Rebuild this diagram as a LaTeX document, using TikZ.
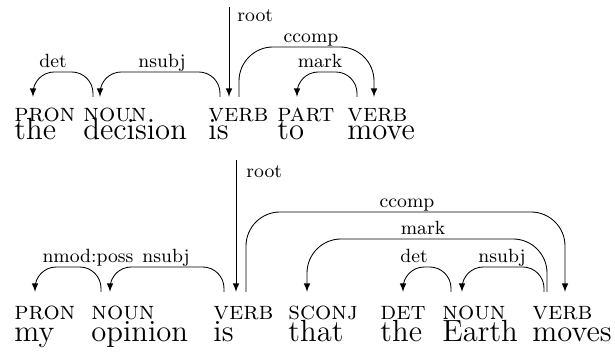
\documentclass[tikz,border=0pt]{standalone}
\usetikzlibrary{calc}
\begin{document}
\begin{tikzpicture}[x=0.47pt,y=0.47pt]
% Styles
\tikzstyle{cat}=[font=\large\scshape,inner sep=0pt,anchor=base west]
\tikzstyle{mot}=[font=\Large,inner sep=0pt,anchor=base west]
\tikzstyle{fleche}=[->,>=latex,thin]
\tikzstyle{arc}=[fleche,rounded corners=10pt]
\tikzstyle{grandarc}=[fleche,rounded corners=16pt]
\tikzstyle{etiq}=[font=\small,inner sep=0pt,anchor=base]
% Dimensions
\def\EcartA{18}
\def\EcartB{22}
\def\LevA{25}
\def\LevB{28}
\useasboundingbox (0,0) rectangle (615,352);
% Phrase 1 : categories
\node[cat] (ta1) at (14,230) {pron};
\node[cat] (ta2) at (83,230) {noun};
\node[cat] (ta3) at (208,230) {verb};
\node[cat] (ta4) at (277,230) {part};
\node[cat] (ta5) at (347,230) {verb};
% Phrase 1 : mots
\node[mot] (ma1) at ($(ta1.base west)+(0,-\EcartA)$) {the};
\node[mot] (ma2) at ($(ta2.base west)+(0,-\EcartA)$) {decision};
\node[mot] (ma3) at ($(ta3.base west)+(0,-\EcartA)$) {is};
\node[mot] (ma4) at ($(ta4.base west)+(0,-\EcartA)$) {to};
\node[mot] (ma5) at ($(ta5.base west)+(0,-\EcartA)$) {move};
% Phrase 1 : dependances
\coordinate (ra) at ($(ta3.base west)+(21,115)$);
\draw[fleche] (ra) node[etiq,anchor=base west,shift={(8,-15)}] (lra) {root} -- ($(ta3.base west)+(21,\LevA)$);
\draw[arc] ($(ta2.base west)+(10,\LevA)$) -- ++(0,25) node[etiq,shift={(-40,4)}] (la1) {det} -| ($(ta1.base west)+(19,\LevA)$);
\draw[arc] ($(ta3.base west)+(12,\LevA)$) -- ++(0,25) node[etiq,shift={(-58,4)}] (la2) {nsubj} -| ($(ta2.base west)+(17,\LevA)$);
\draw[grandarc] ($(ta3.base west)+(31,\LevA)$) -- ++(0,50) node[etiq,shift={(72,4)}] (la3) {ccomp} -| ($(ta5.base west)+(27,\LevA)$);
\draw[arc] ($(ta5.base west)+(10,\LevA)$) -- ++(0,25) node[etiq,shift={(-37,4)}] (la4) {mark} -| ($(ta4.base west)+(20,\LevA)$);
% Phrase 2 : categories
\node[cat] (tb1) at (14,32) {pron};
\node[cat] (tb2) at (91,32) {noun};
\node[cat] (tb3) at (213,32) {verb};
\node[cat] (tb4) at (288,32) {sconj};
\node[cat] (tb5) at (380,32) {det};
\node[cat] (tb6) at (442,32) {noun};
\node[cat] (tb7) at (532,32) {verb};
% Phrase 2 : mots
\node[mot] (mb1) at ($(tb1.base west)+(0,-\EcartB)$) {my};
\node[mot] (mb2) at ($(tb2.base west)+(0,-\EcartB)$) {opinion};
\node[mot] (mb3) at ($(tb3.base west)+(0,-\EcartB)$) {is};
\node[mot] (mb4) at ($(tb4.base west)+(0,-\EcartB)$) {that};
\node[mot] (mb5) at ($(tb5.base west)+(0,-\EcartB)$) {the};
\node[mot] (mb6) at ($(tb6.base west)+(0,-\EcartB)$) {Earth};
\node[mot] (mb7) at ($(tb7.base west)+(0,-\EcartB)$) {moves};
% Phrase 2 : dependances
\coordinate (rb) at ($(tb3.base west)+(23,160)$);
\draw[fleche] (rb) node[etiq,anchor=base west,shift={(10,-18)}] (lrb) {root} -- ($(tb3.base west)+(23,\LevB)$);
\draw[arc] ($(tb2.base west)+(10,\LevB)$) -- ++(0,25) node[etiq,shift={(-13,4)}] (lb1) {nmod:poss} -| ($(tb1.base west)+(21,\LevB)$);
\draw[arc] ($(tb3.base west)+(11,\LevB)$) -- ++(0,25) node[etiq,shift={(-58,4)}] (lb2) {nsubj} -| ($(tb2.base west)+(19,\LevB)$);
\draw[grandarc] ($(tb3.base west)+(33,\LevB)$) -- ++(0,80) node[etiq,shift={(161,4)}] (lb3) {ccomp} -| ($(tb7.base west)+(33,\LevB)$);
\draw[grandarc] ($(tb7.base west)+(15,\LevB)$) -- ++(0,53) node[etiq,shift={(-124,4)}] (lb4) {mark} -| ($(tb4.base west)+(19,\LevB)$);
\draw[arc] ($(tb6.base west)+(9,\LevB)$) -- ++(0,25) node[etiq,shift={(-37,4)}] (lb5) {det} -| ($(tb5.base west)+(23,\LevB)$);
\draw[arc] ($(tb7.base west)+(12,\LevB)$) -- ++(0,25) node[etiq,shift={(-42,4)}] (lb6) {nsubj} -| ($(tb6.base west)+(20,\LevB)$);
\end{tikzpicture}
\end{document}
